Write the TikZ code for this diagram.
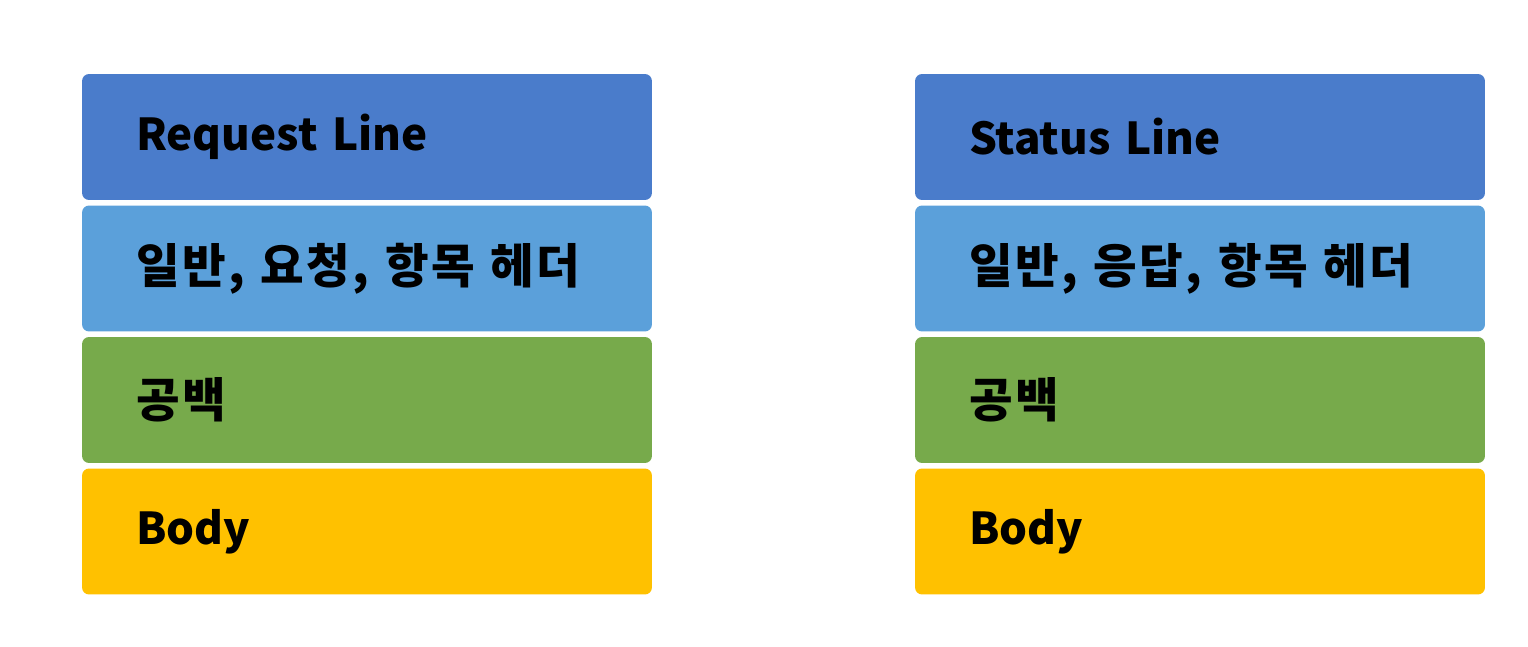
\documentclass[tikz,border=0pt]{standalone}
\usepackage{fontspec}
\newfontfamily\kr{Noto Sans CJK KR}
\usetikzlibrary{positioning}
\definecolor{lineblue}{HTML}{4A7CCB}
\definecolor{headblue}{HTML}{5BA0DA}
\definecolor{gapgreen}{HTML}{77AA4B}
\definecolor{bodyyellow}{HTML}{FFC100}
\tikzset{
    latin/.style = {font = \kr\bfseries\fontsize{25}{30}\selectfont},
    hangul/.style = {font = \kr\bfseries\fontsize{27}{32}\selectfont\addfontfeatures{LetterSpace = 5}}
}

\begin{document}
\begin{tikzpicture}[x = 0.02cm, y = -0.02cm]
    \tikzstyle{every node} = [rounded corners = 4pt, inner xsep = 1.08cm, text width = 9.24cm, minimum height = 2.52cm, align = left];
    \useasboundingbox (0,0) rectangle (1528,646);
    % request:
    \node[latin, fill = lineblue] (req1) at (367,137){Request Line};
    \node[hangul, fill = headblue] (req2) at (367,268.5){일반, 요청, 항목 헤더};
    \node[hangul, fill = gapgreen] (req3) at (367,400){공백};
    \node[latin, fill = bodyyellow] (req4) at (367,531.5){Body};
    % response:
    \node[latin, fill = lineblue] (res1) at (1200,137){Status Line};
    \node[hangul, fill = headblue] (res2) at (1200,268.5){일반, 응답, 항목 헤더};
    \node[hangul, fill = gapgreen] (res3) at (1200,400){공백};
    \node[latin, fill = bodyyellow] (res4) at (1200,531.5){Body};
\end{tikzpicture}
\end{document}
